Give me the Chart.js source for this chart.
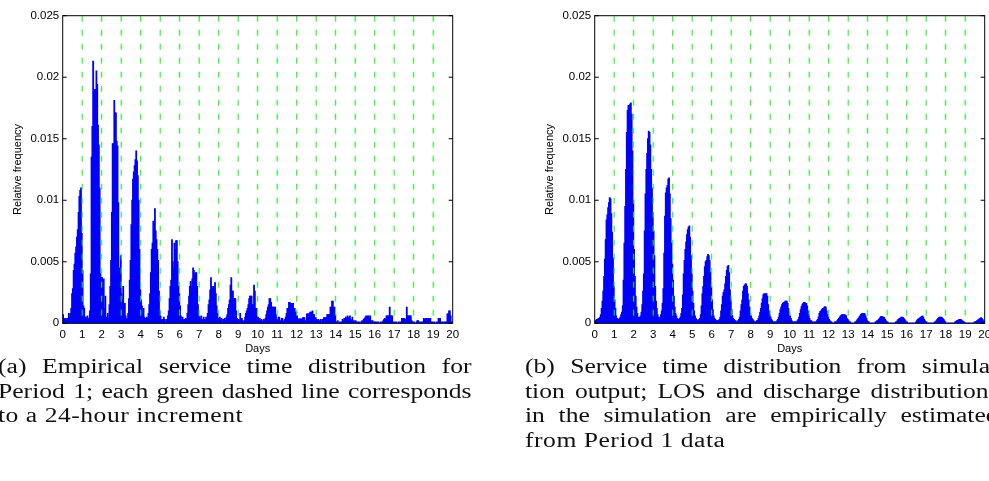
<!DOCTYPE html>
<html>
<head>
<meta charset="utf-8">
<script src="https://cdn.jsdelivr.net/npm/chart.js@4/dist/chart.umd.min.js"></script>
<style>
  html, body { margin: 0; padding: 0; background: #fff; }
  body { width: 989px; height: 481px; overflow: hidden; position: relative; }
  .panel { position: absolute; top: 0; width: 470px; height: 360px; }
  .cap { position: absolute; font-family: "Liberation Serif", serif; font-size: 20px; line-height: 24.5px;
         color: #111; transform-origin: 0 0; transform: scaleX(1.28); }
  .cap div { white-space: nowrap; }
  .cap .j { text-align: justify; text-align-last: justify; white-space: normal; }
  .cap .l { letter-spacing: 0.4px; }
</style>
</head>
<body>
<div class="panel" style="left:0"><canvas id="empChart"></canvas></div>
<div class="panel" style="left:531.6px"><canvas id="simChart"></canvas></div>

<div class="cap" style="left:-2px; top:354px; width:370px">
  <div class="j">(a) Empirical service time distribution for</div>
  <div class="j">Period 1; each green dashed line corresponds</div>
  <div class="l">to a 24-hour increment</div>
</div>
<div class="cap" style="left:525px; top:354px; width:370px">
  <div class="j">(b) Service time distribution from simula-</div>
  <div class="j">tion output; LOS and discharge distributions</div>
  <div class="j">in the simulation are empirically estimated</div>
  <div class="l">from Period 1 data</div>
</div>

<script>
// histogram bins: 24 per day (hourly), 20 days
const BINS_PER_DAY = 24;
const dayMarkers = [1, 2, 3, 4, 5, 6, 7, 8, 9, 10, 11, 12, 13, 14, 15, 16, 17, 18, 19];
const yTickLabels = ['0', '0.005', '0.01', '0.015', '0.02', '0.025'];

// relative frequency x 1e-3, one row per day
const empirical = [
  0.7,0.4,0.3,0.4,0.2,0.4,0.3,0.8,0.5,0.8,1.2,2.4,2.8,4.3,4.8,5.7,6.2,7.0,7.6,9.0,10.3,10.8,11.0,7.3,
  4.3,1.4,1.2,0.5,0.5,0.3,0.6,0.4,0.3,1.0,4.0,13.5,16.0,21.3,16.7,19.0,19.0,20.5,19.4,16.1,14.5,11.0,4.0,3.7,
  3.7,2.4,3.6,1.2,2.2,0.5,0.3,0.8,0.4,1.5,3.0,5.1,9.0,14.6,14.6,18.1,17.1,17.1,14.8,14.4,9.8,4.5,2.2,5.5,
  2.4,1.9,3.0,1.1,1.6,0.6,0.3,0.4,0.8,2.0,3.5,5.1,8.0,10.0,11.7,12.3,12.8,13.3,14.0,13.2,12.0,10.0,6.0,2.7,
  1.9,1.4,0.8,1.2,0.5,0.4,0.2,0.5,0.4,0.8,1.5,2.4,4.1,6.0,6.5,8.3,8.1,9.3,7.5,6.8,6.0,5.1,2.6,1.0,
  0.6,0.3,0.3,0.2,0.5,0.3,0.1,0.3,0.2,0.6,1.0,2.0,3.0,3.5,6.8,5.0,4.4,6.5,6.0,6.7,6.7,5.0,3.0,2.4,
  1.4,0.6,0.3,0.5,0.2,0.3,0.1,0.4,0.3,0.8,1.5,2.2,3.0,3.4,3.0,3.6,4.5,4.3,4.0,4.1,4.1,3.0,1.5,0.6,
  0.5,0.3,0.6,0.3,0.2,0.5,0.3,0.2,0.5,0.4,0.8,1.5,1.9,2.7,3.7,3.0,2.8,3.0,2.7,3.3,2.4,1.4,0.8,0.4,
  0.2,0.5,0.2,0.4,0.1,0.3,0.2,0.4,0.2,0.5,0.7,1.2,1.5,1.9,3.1,3.7,2.6,2.6,2.0,2.0,2.0,1.0,0.4,0.3,
  0.3,0.2,0.8,0.2,0.4,0.2,0.1,0.2,0.5,0.8,1.0,1.2,1.5,2.0,2.2,2.2,2.2,1.5,1.5,3.1,2.6,1.2,1.2,0.5,
  0.5,0.2,0.4,0.2,0.3,0.1,0.2,0.3,0.2,0.4,0.7,1.0,1.3,1.5,2.0,2.0,1.7,1.3,1.3,1.3,1.3,1.3,0.7,0.3,
  0.2,0.5,0.5,0.2,0.1,0.4,0.4,0.1,0.2,0.3,0.5,0.8,1.2,1.2,1.7,1.7,1.6,1.6,1.6,1.6,1.2,1.2,0.9,0.9,
  0.6,0.3,0.35,0.35,0.35,0.35,0.1,0.45,0.45,0.45,0.2,0.1,0.75,0.75,0.75,0.75,0.9,0.9,0.9,1.0,0.7,0.7,0.45,0.45,
  0.3,0.2,0.3,0.1,0.2,0.3,0.1,0.3,0.3,0.45,0.45,0.45,0.45,0.7,0.7,0.7,0.7,1.3,1.3,1.8,1.8,1.3,1.3,0.7,
  0.1,0.0,0.2,0.0,0.1,0.0,0.1,0.0,0.3,0.2,0.4,0.3,0.5,0.4,0.6,0.4,0.5,0.6,0.3,0.2,0.5,0.1,0.2,0.1,
  0.2,0.1,0.0,0.1,0.0,0.1,0.0,0.1,0.2,0.1,0.3,0.4,0.5,0.6,0.4,0.6,0.6,0.4,0.6,0.2,0.1,0.2,0.0,0.1,
  0.1,0.0,0.1,0.0,0.1,0.0,0.0,0.1,0.0,0.1,0.2,0.3,0.4,0.3,0.6,0.6,0.6,0.6,1.3,0.6,0.6,0.6,0.1,0.0,
  0.1,0.0,0.1,0.0,0.0,0.1,0.0,0.1,0.0,0.4,0.4,0.4,0.4,0.2,0.3,1.3,0.6,0.6,0.6,0.6,0.6,0.2,0.1,0.0,
  0.1,0.0,0.0,0.1,0.2,0.2,0.0,0.1,0.0,0.1,0.0,0.1,0.4,0.3,0.4,0.4,0.3,0.4,0.4,0.3,0.4,0.1,0.0,0.1,
  0.0,0.1,0.0,0.0,0.1,0.0,0.4,0.4,0.4,0.1,0.0,0.1,0.0,0.1,0.0,0.1,0.1,0.75,0.75,1.0,1.0,0.6,0.1,0.0
];

const simulated = [
  0.2,0.2,0.3,0.3,0.4,0.4,0.5,0.7,1.2,1.8,2.6,3.8,5.2,6.8,8.4,8.8,9.4,9.8,10.2,10.1,8.9,7.4,5.3,3.0,
  1.9,1.2,0.6,0.4,0.3,0.3,0.4,0.5,0.7,0.9,1.4,3.5,6.5,9.5,12.5,15.5,17.3,17.7,17.6,17.8,17.9,17.0,14.0,10.0,
  6.0,3.8,2.2,1.3,0.8,0.5,0.4,0.5,0.6,0.9,1.5,2.6,4.0,7.5,10.5,12.5,13.8,15.0,15.6,15.5,14.5,12.5,11.0,9.0,
  7.5,5.5,3.0,1.8,1.2,0.7,0.5,0.4,0.5,0.7,1.0,1.6,2.8,5.7,8.7,10.6,11.0,11.2,11.7,11.8,10.5,8.5,6.5,4.8,
  3.5,2.2,1.3,0.8,0.6,0.4,0.3,0.3,0.4,0.5,0.8,1.2,2.3,4.0,5.1,6.0,6.6,7.2,7.6,7.8,7.9,7.0,5.5,4.0,
  2.6,1.6,1.0,0.6,0.4,0.3,0.2,0.2,0.3,0.4,0.7,1.4,2.4,3.0,3.8,4.6,5.0,5.1,5.4,5.6,5.5,5.1,4.1,3.0,
  1.9,1.1,0.6,0.4,0.3,0.2,0.2,0.2,0.2,0.3,0.5,1.0,1.5,2.2,2.5,2.7,3.2,3.8,4.3,4.6,4.7,4.1,2.7,1.9,
  1.1,0.6,0.4,0.3,0.2,0.2,0.1,0.1,0.2,0.3,0.5,1.0,1.5,1.9,2.6,3.0,3.1,3.2,3.2,3.0,2.4,1.9,1.3,0.8,
  0.6,0.4,0.3,0.2,0.1,0.1,0.1,0.2,0.2,0.4,0.6,0.9,1.2,1.6,2.0,2.3,2.4,2.3,2.4,2.4,2.2,1.5,1.0,0.7,
  0.5,0.3,0.2,0.1,0.1,0.1,0.1,0.1,0.2,0.3,0.5,0.8,1.1,1.3,1.5,1.6,1.7,1.7,1.8,1.8,1.8,1.6,1.2,0.9,
  0.6,0.4,0.2,0.1,0.1,0.1,0.1,0.1,0.1,0.2,0.3,0.5,0.8,1.1,1.35,1.5,1.6,1.7,1.7,1.6,1.6,1.4,1.0,0.7,
  0.4,0.2,0.2,0.1,0.1,0.0,0.1,0.1,0.1,0.2,0.3,0.5,0.8,0.95,1.0,1.1,1.2,1.2,1.3,1.35,1.3,1.0,0.7,0.5,
  0.3,0.2,0.1,0.1,0.0,0.0,0.0,0.1,0.1,0.1,0.2,0.3,0.4,0.5,0.6,0.65,0.7,0.7,0.7,0.7,0.65,0.6,0.4,0.3,
  0.2,0.1,0.1,0.0,0.0,0.0,0.0,0.0,0.1,0.1,0.2,0.3,0.4,0.5,0.6,0.7,0.75,0.8,0.8,0.8,0.75,0.6,0.4,0.2,
  0.1,0.1,0.0,0.0,0.0,0.0,0.0,0.0,0.0,0.1,0.1,0.2,0.2,0.3,0.4,0.5,0.55,0.55,0.5,0.5,0.45,0.3,0.2,0.1,
  0.1,0.0,0.0,0.0,0.0,0.0,0.0,0.0,0.0,0.0,0.1,0.1,0.2,0.3,0.35,0.4,0.45,0.5,0.5,0.45,0.4,0.3,0.2,0.1,
  0.1,0.0,0.0,0.0,0.0,0.0,0.0,0.0,0.0,0.0,0.0,0.1,0.2,0.3,0.35,0.4,0.45,0.5,0.55,0.6,0.5,0.3,0.2,0.1,
  0.1,0.0,0.0,0.0,0.0,0.0,0.0,0.0,0.0,0.0,0.1,0.1,0.2,0.3,0.4,0.45,0.5,0.5,0.5,0.45,0.4,0.3,0.2,0.1,
  0.0,0.0,0.0,0.0,0.0,0.0,0.0,0.0,0.0,0.0,0.0,0.1,0.1,0.2,0.2,0.25,0.3,0.3,0.3,0.25,0.2,0.15,0.1,0.05,
  0.0,0.0,0.0,0.0,0.0,0.0,0.0,0.0,0.0,0.0,0.0,0.1,0.1,0.15,0.2,0.25,0.3,0.35,0.4,0.45,0.4,0.3,0.2,0.1
];

function toPoints(values) {
  return values.map((v, i) => ({ x: (i + 0.5) / BINS_PER_DAY, y: v / 1000 }));
}

// dashed day markers on top of the bars, plus the matlab style box with inward ticks
const boxPlugin = {
  id: 'box',
  afterDatasetsDraw(chart) {
    const { ctx, chartArea: a, scales: { x, y } } = chart;
    ctx.save();
    ctx.strokeStyle = '#00ff00';
    ctx.lineWidth = 1;
    ctx.setLineDash([6, 8]);
    dayMarkers.forEach(d => {
      const px = x.getPixelForValue(d);
      ctx.beginPath();
      ctx.moveTo(px, a.top);
      ctx.lineTo(px, a.bottom);
      ctx.stroke();
    });
    ctx.setLineDash([]);
    ctx.strokeStyle = '#000';
    ctx.strokeRect(a.left, a.top, a.right - a.left, a.bottom - a.top);
    y.ticks.forEach(t => {
      const py = y.getPixelForValue(t.value);
      ctx.beginPath();
      ctx.moveTo(a.left, py); ctx.lineTo(a.left + 4, py);
      ctx.moveTo(a.right - 4, py); ctx.lineTo(a.right, py);
      ctx.stroke();
    });
    ctx.restore();
  }
};

const font = { family: 'Liberation Sans, Arial, sans-serif', size: 11.5 };

function drawPanel(canvasId, values) {
  const ctx = document.getElementById(canvasId).getContext('2d');
  return new Chart(ctx, {
    type: 'bar',
    data: {
      datasets: [{
        data: toPoints(values),
        backgroundColor: '#0000ff',
        borderWidth: 0,
        barPercentage: 1,
        categoryPercentage: 1,
        inflateAmount: 0.5
      }]
    },
    options: {
      responsive: true,
      maintainAspectRatio: false,
      animation: false,
      events: [],
      layout: { padding: { top: 15.7, right: 17.3, left: 0, bottom: 0 } },
      plugins: { legend: { display: false }, tooltip: { enabled: false } },
      scales: {
        x: {
          type: 'linear', min: 0, max: 20, offset: false,
          grid: { display: false, drawTicks: false },
          border: { display: false },
          ticks: { stepSize: 1, autoSkip: false, maxRotation: 0, padding: 5, color: '#000', font: font },
          title: { display: true, text: 'Days', color: '#000', font: { family: font.family, size: 11 }, padding: { top: 0, bottom: 4.9 } },
          afterFit: s => { s.height = 36.7; }
        },
        y: {
          min: 0, max: 0.025,
          grid: { display: false, drawTicks: false },
          border: { display: false },
          ticks: { stepSize: 0.005, padding: 3.5, color: '#000', font: font, callback: (v, i) => yTickLabels[i] },
          title: { display: true, text: 'Relative frequency', color: '#000', font: { family: font.family, size: 11 }, padding: { top: 10.9, bottom: 0 } },
          afterFit: s => { s.width = 62.7; }
        }
      }
    },
    plugins: [boxPlugin]
  });
}

drawPanel('empChart', empirical);
drawPanel('simChart', simulated);
</script>
</body>
</html>
